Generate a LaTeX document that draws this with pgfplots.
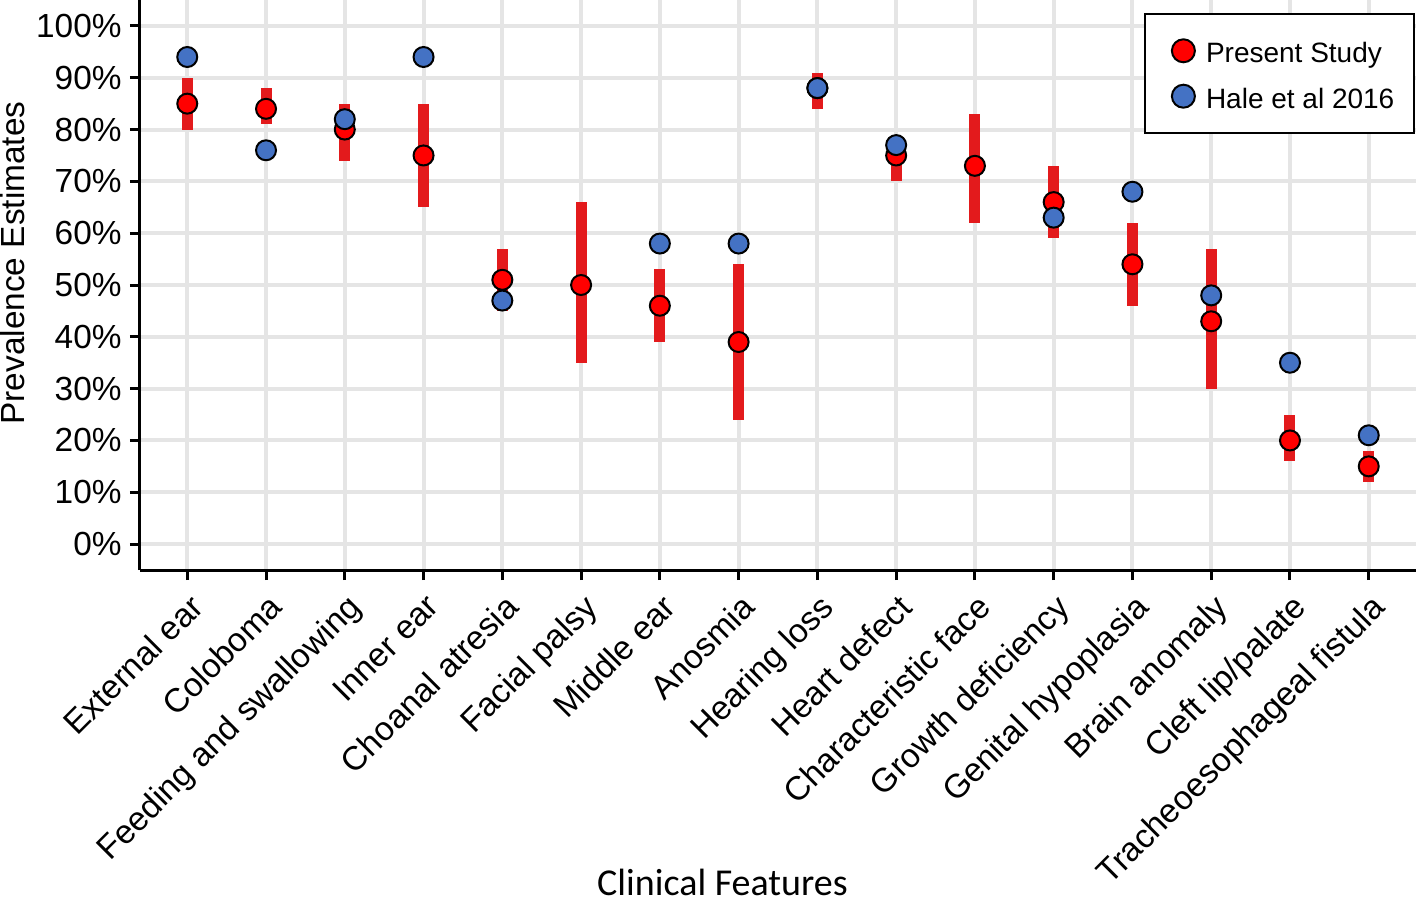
\documentclass[border=0pt]{standalone}
\usepackage{fontspec}
\setmainfont{Liberation Sans}
\newfontfamily\calibri{Carlito}
\usepackage{pgfplots}
\usepackage{pgfplotstable}
\pgfplotsset{compat=1.18}
\definecolor{pred}{RGB}{255,0,0}
\definecolor{pblue}{RGB}{68,114,196}
\definecolor{barred}{RGB}{227,26,28}
\definecolor{gridgray}{RGB}{229,229,229}

\pgfplotstableread{
x est lo hi
1 85 80 90
2 84 81 88
3 80 74 85
4 75 65 85
5 51 45 57
6 50 35 66
7 46 39 53
8 39 24 54
9 88 84 91
10 75 70 78
11 73 62 83
12 66 59 73
13 54 46 62
14 43 30 57
15 20 16 25
16 15 12 18
}\present

\pgfplotstableread{
x est
1 94
2 76
3 82
4 94
5 47
7 58
8 58
9 88
10 77
12 63
13 68
14 48
15 35
16 21
}\hale

\begin{document}
\begin{tikzpicture}
\begin{axis}[
  name=ax,
  scale only axis, width=638pt, height=285pt,
  xmin=0.4, xmax=16.6, ymin=-5, ymax=105,
  axis x line*=bottom, axis y line*=left,
  axis line style={-, line width=1.5pt, black},
  xtick={1,...,16},
  xticklabels={External ear,Coloboma,Feeding and swallowing,Inner ear,Choanal atresia,Facial palsy,Middle ear,Anosmia,Hearing loss,Heart defect,Characteristic face,Growth deficiency,Genital hypoplasia,Brain anomaly,Cleft lip/palate,Tracheoesophageal fistula},
  ytick={0,10,...,100},
  yticklabels={0\%,10\%,20\%,30\%,40\%,50\%,60\%,70\%,80\%,90\%,100\%},
  tick align=outside, major tick length=5pt,
  tick style={line width=1.5pt, black},
  grid=major, major grid style={line width=2pt, gridgray},
  ticklabel style={font=\fontsize{16.7}{19}\selectfont},
  xticklabel style={rotate=45, anchor=north east, inner sep=0pt, xshift=-3.95pt, yshift=-4.5pt},
  yticklabel style={inner sep=0pt, xshift=-4pt},
  xlabel={Clinical Features},
  xlabel style={font=\calibri\fontsize{19}{22}\selectfont, at={(axis description cs:0.4565,-0.549)}, anchor=center},
  ylabel={Prevalence Estimates},
  ylabel style={font=\fontsize{16.7}{19}\selectfont, at={(axis description cs:-0.0999,0.5386)}, anchor=center},
  legend style={at={(axis description cs:0.9995,0.9772)}, anchor=north east, draw=black, line width=1pt, fill=white,
    font=\fontsize{14}{16.8}\selectfont, inner xsep=8pt, inner ysep=7.4pt, row sep=0.7pt,
    nodes={text height=15pt, text depth=3pt}},
  legend cell align=left,
  legend image code/.code={%
    \path (-10.5pt,0pt) (8.8pt,0pt);
    \draw[#1, mark size=5.75pt] plot coordinates {(0pt,0pt)};},
  clip=false,
]
\addplot[forget plot, barred, only marks, mark=none,
  error bars/.cd, y dir=both, y explicit, error mark=none,
  error bar style={line width=5.5pt, barred}]
  table[x=x, y=est, y error plus expr=\thisrow{hi}-\thisrow{est}, y error minus expr=\thisrow{est}-\thisrow{lo}] {\present};
\addplot[only marks, mark=*, mark size=5pt, mark options={fill=pred, draw=black, line width=1pt}]
  table[x=x, y=est] {\present};
\addlegendentry{Present Study}
\addplot[only marks, mark=*, mark size=5pt, mark options={fill=pblue, draw=black, line width=1pt}]
  table[x=x, y=est] {\hale};
\addlegendentry{Hale et al 2016}
\end{axis}
\pgfresetboundingbox
\path[use as bounding box] (-70pt,-165pt) rectangle (642pt,285pt);
\end{tikzpicture}
\end{document}
